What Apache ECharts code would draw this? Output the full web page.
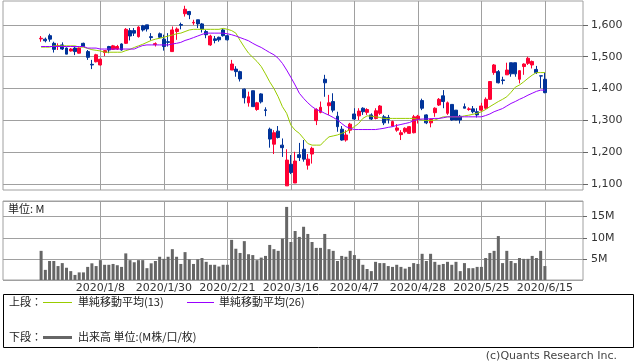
<!DOCTYPE html>
<html>
<head>
<meta charset="utf-8">
<script src="https://cdn.jsdelivr.net/npm/echarts@6/dist/echarts.min.js"></script>
<style>
html,body{margin:0;padding:0;background:#fff;}
#c{width:638px;height:362px;}
</style>
</head>
<body>
<div id="c"></div>
<script>
// ---- data ----
const dates = [
'2019/12/13','2019/12/16','2019/12/17','2019/12/18','2019/12/19','2019/12/20','2019/12/23','2019/12/24','2019/12/25','2019/12/26','2019/12/27','2019/12/30',
'2020/1/6','2020/1/7','2020/1/8','2020/1/9','2020/1/10','2020/1/14','2020/1/15','2020/1/16','2020/1/17','2020/1/20','2020/1/21','2020/1/22','2020/1/23','2020/1/24','2020/1/27','2020/1/28','2020/1/29','2020/1/30','2020/1/31',
'2020/2/3','2020/2/4','2020/2/5','2020/2/6','2020/2/7','2020/2/10','2020/2/12','2020/2/13','2020/2/14','2020/2/17','2020/2/18','2020/2/19','2020/2/20','2020/2/21','2020/2/25','2020/2/26','2020/2/27','2020/2/28',
'2020/3/2','2020/3/3','2020/3/4','2020/3/5','2020/3/6','2020/3/9','2020/3/10','2020/3/11','2020/3/12','2020/3/13','2020/3/16','2020/3/17','2020/3/18','2020/3/19','2020/3/23','2020/3/24','2020/3/25','2020/3/26','2020/3/27','2020/3/30','2020/3/31',
'2020/4/1','2020/4/2','2020/4/3','2020/4/6','2020/4/7','2020/4/8','2020/4/9','2020/4/10','2020/4/13','2020/4/14','2020/4/15','2020/4/16','2020/4/17','2020/4/20','2020/4/21','2020/4/22','2020/4/23','2020/4/24','2020/4/27','2020/4/28','2020/4/30',
'2020/5/1','2020/5/7','2020/5/8','2020/5/11','2020/5/12','2020/5/13','2020/5/14','2020/5/15','2020/5/18','2020/5/19','2020/5/20','2020/5/21','2020/5/22','2020/5/25','2020/5/26','2020/5/27','2020/5/28','2020/5/29',
'2020/6/1','2020/6/2','2020/6/3','2020/6/4','2020/6/5','2020/6/8','2020/6/9','2020/6/10','2020/6/11','2020/6/12','2020/6/15'
];
const labelDates = ['2020/1/8','2020/1/30','2020/2/21','2020/3/16','2020/4/7','2020/4/28','2020/5/25','2020/6/15'];
// [open, close, low, high]
const ohlc = [
[1556,1558,1547,1565],[1555,1550,1545,1560],[1566,1555,1547,1572],[1542,1523,1513,1547],[1532,1534,1521,1542],
[1537,1524,1521,1545],[1527,1508,1508,1529],[1518,1524,1516,1527],[1527,1516,1505,1532],[1511,1527,1510,1529],
[1542,1532,1530,1544],[1516,1498,1490,1521],[1476,1474,1461,1490],[1484,1506,1482,1509],[1474,1492,1472,1495],
[1513,1519,1502,1521],[1532,1521,1511,1534],[1523,1534,1521,1537],[1524,1532,1521,1537],[1540,1521,1519,1542],
[1542,1586,1540,1590],[1582,1565,1551,1590],[1582,1574,1565,1590],[1563,1593,1560,1596],[1597,1584,1579,1600],
[1600,1587,1579,1600],[1563,1560,1551,1574],[1538,1541,1532,1545],[1572,1561,1558,1576],[1555,1532,1519,1569],
[1547,1545,1532,1574],[1516,1584,1516,1595],[1579,1587,1553,1592],[1601,1599,1586,1607],[1635,1649,1626,1660],
[1642,1632,1618,1644],[1606,1608,1600,1616],[1616,1603,1590,1616],[1603,1587,1576,1606],[1579,1569,1558,1584],
[1537,1565,1534,1569],[1556,1551,1542,1565],[1561,1553,1547,1563],[1584,1566,1563,1589],[1566,1553,1551,1569],
[1458,1477,1458,1490],[1461,1453,1437,1470],[1453,1430,1422,1456],[1398,1371,1353,1400],[1355,1374,1343,1390],
[1393,1343,1343,1393],[1334,1355,1330,1358],[1383,1358,1353,1385],[1333,1331,1313,1341],[1272,1241,1214,1277],
[1225,1261,1194,1269],[1266,1246,1243,1282],[1222,1214,1185,1243],[1094,1175,1094,1209],[1162,1136,1131,1191],
[1103,1172,1103,1201],[1192,1183,1172,1229],[1209,1178,1170,1238],[1159,1178,1145,1194],[1194,1212,1164,1217],
[1299,1334,1285,1338],[1325,1341,1322,1359],[1429,1418,1374,1443],[1346,1355,1317,1380],[1359,1332,1325,1385],
[1313,1280,1264,1327],[1272,1238,1236,1282],[1238,1254,1233,1269],[1269,1288,1259,1292],[1320,1304,1301,1338],
[1314,1329,1301,1338],[1338,1327,1317,1341],[1325,1334,1317,1338],[1317,1304,1301,1322],[1306,1330,1303,1338],
[1322,1345,1317,1348],[1311,1292,1285,1317],[1309,1303,1290,1317],[1282,1296,1280,1299],[1269,1276,1264,1288],
[1255,1261,1238,1269],[1264,1275,1259,1278],[1259,1280,1257,1282],[1261,1311,1259,1317],[1303,1313,1290,1317],
[1362,1338,1332,1368],[1317,1292,1288,1319],[1292,1303,1278,1306],[1324,1338,1311,1341],[1348,1366,1345,1370],
[1377,1359,1338,1395],[1322,1355,1317,1359],[1350,1301,1299,1350],[1332,1301,1301,1332],[1313,1301,1290,1317],
[1343,1338,1338,1353],[1334,1336,1330,1341],[1336,1327,1322,1345],[1327,1317,1309,1338],[1332,1345,1327,1355],
[1338,1366,1334,1372],[1366,1422,1364,1422],[1450,1474,1443,1477],[1453,1418,1416,1458],[1427,1425,1413,1437],
[1443,1458,1443,1481],[1481,1446,1437,1481],[1481,1446,1437,1481],[1429,1456,1416,1458],[1469,1477,1443,1479],
[1479,1495,1474,1500],[1474,1485,1463,1488],[1460,1450,1446,1471],[1440,1439,1401,1440],[1429,1387,1385,1450]
];
const ma13 = [
1530,1530,1530,1534,1534,1534,1534,1534,1534,1530,
1530,1526,1522,1520,1518,1514,1514,1514,1514,1514,
1519,1523,1529,1534,1539,1545,1551,1555,1558,1561,
1565,1568,1572,1574,1579,1584,1586,1586,1586,1586,
1586,1586,1586,1589,1586,1582,1574,1551,1530,1511,
1498,1485,1469,1446,1421,1400,1374,1343,1322,1285,
1269,1259,1243,1227,1222,1222,1222,1236,1248,1251,
1254,1259,1264,1272,1280,1290,1306,1314,1313,1311,
1309,1306,1306,1306,1306,1306,1306,1306,1306,1303,
1301,1299,1299,1301,1306,1311,1311,1311,1311,1311,
1314,1316,1319,1322,1327,1334,1343,1351,1359,1366,
1374,1388,1404,1411,1421,1432,1442,1450,1450,1450
];
const ma26 = [
1532,1532,1532,1532,1532,1532,1532,1532,1532,1532,
1532,1527,1527,1527,1524,1524,1524,1524,1524,1524,
1524,1524,1524,1530,1535,1537,1537,1537,1537,1537,
1537,1540,1542,1545,1551,1555,1560,1565,1570,1574,
1574,1574,1574,1574,1572,1569,1565,1560,1555,1550,
1542,1535,1529,1521,1513,1506,1495,1479,1458,1435,
1411,1385,1369,1355,1343,1334,1329,1322,1316,1309,
1301,1290,1280,1275,1271,1271,1271,1271,1271,1271,
1273,1275,1278,1280,1284,1287,1290,1293,1299,1303,
1304,1304,1305,1306,1306,1308,1311,1311,1311,1311,
1311,1311,1311,1311,1311,1315,1320,1327,1332,1337,
1345,1353,1359,1366,1372,1379,1385,1391,1395,1395
];
// volume, millions
const volume = [
6.9,2.4,4.5,4.5,3.3,4.0,2.9,2.1,1.2,1.8,
1.8,3.1,3.95,3.3,4.7,3.6,3.6,3.8,3.5,3.1,
6.3,4.7,4.2,4.7,4.7,2.8,3.95,4.5,5.5,5.0,
5.5,7.3,5.5,3.8,6.6,4.9,3.8,4.9,5.2,4.3,
3.6,3.6,3.2,3.6,3.6,9.5,7.4,6.4,9.2,6.1,
5.9,4.7,5.3,5.7,8.3,7.3,6.9,9.8,17.3,9.0,
11.6,10.2,12.6,10.9,9.0,7.6,7.6,10.9,7.3,6.9,
4.5,5.7,5.5,6.9,5.9,5.0,3.6,2.6,2.1,4.3,
4.0,4.0,3.3,3.1,3.6,3.1,2.7,3.1,4.0,3.8,
6.2,4.5,6.2,4.3,3.6,3.8,4.3,3.6,4.3,2.1,
4.0,2.8,2.8,3.1,3.1,5.2,6.4,6.9,10.4,4.0,
6.9,4.5,4.0,5.2,5.0,5.0,5.7,5.2,6.9,3.3
];
const priceTicks = [1100,1200,1300,1400,1500,1600];

// ---- build ----
const PADL = 9, PADR = 9;
const pad = n => Array(n).fill('');
const cats = pad(PADL).concat(dates).concat(pad(PADR));
const padData = (arr, fill) => Array(PADL).fill(fill).concat(arr).concat(Array(PADR).fill(fill));
const isLabelIdx = (idx) => labelDates.indexOf(cats[idx]) >= 0;

const GRID = '#a0a0a0';
const FONT = "'DejaVu Sans','Noto Sans CJK JP',sans-serif";
const JFONT = "'Noto Sans CJK JP','DejaVu Sans',sans-serif";

const chart = echarts.init(document.getElementById('c'), null, {renderer:'canvas'});
const xBase = (gi, showLabel) => ({
  type:'category', gridIndex:gi, data:cats, boundaryGap:false,
  axisLine:{show:false}, axisTick:{show:false},
  axisLabel:{show:showLabel, interval:(i)=>isLabelIdx(i), color:'#333', fontSize:11, fontFamily:FONT, margin:3,
    formatter:(v)=>v},
  splitLine:{show:true, interval:(i)=>isLabelIdx(i), lineStyle:{color:GRID, width:1}}
});

chart.setOption({
  animation:false,
  backgroundColor:'#fff',
  grid:[
    {left:3, top:1, width:580, height:189, show:true, borderColor:GRID, borderWidth:1, containLabel:false},
    {left:3, top:201, width:580, height:79, show:true, borderColor:GRID, borderWidth:1, containLabel:false}
  ],
  xAxis:[xBase(0,false), xBase(1,true)],
  yAxis:[
    {type:'value', gridIndex:0, position:'right', min:1081, max:1675, scale:true,
     axisLine:{show:false},
     axisTick:{show:true, length:5, customValues:priceTicks, lineStyle:{color:'#666'}},
     axisLabel:{customValues:priceTicks, color:'#333', fontSize:11, fontFamily:FONT, margin:8,
       formatter:(v)=>v.toLocaleString('en-US')},
     splitLine:{show:true, lineStyle:{color:GRID, width:1}}},
    {type:'value', gridIndex:1, position:'right', min:0, max:18.7, interval:5,
     axisLine:{show:false},
     axisTick:{show:true, length:4, lineStyle:{color:'#666'}},
     axisLabel:{color:'#333', fontSize:11, fontFamily:FONT, margin:8, showMinLabel:false, showMaxLabel:false,
       formatter:(v)=> (v>0 && v<18) ? (v+'M') : ''},
     splitLine:{show:true, lineStyle:{color:GRID, width:1}}}
  ],
  series:[
    {type:'candlestick', xAxisIndex:0, yAxisIndex:0, barWidth:3.4,
     data: padData(ohlc, '-'),
     itemStyle:{color:'#ff0033', color0:'#003399', borderColor:'#ff0033', borderColor0:'#003399', borderWidth:1}},
    {type:'line', xAxisIndex:0, yAxisIndex:0, data:padData(ma13,'-'), symbol:'none',
     lineStyle:{color:'#99cc00', width:1}, z:3},
    {type:'line', xAxisIndex:0, yAxisIndex:0, data:padData(ma26,'-'), symbol:'none',
     lineStyle:{color:'#9900ff', width:1}, z:3},
    {type:'bar', xAxisIndex:1, yAxisIndex:1, data:padData(volume,'-'), barWidth:3,
     itemStyle:{color:'#666666'}}
  ],
  graphic:[
    {type:'text', left:8, top:203, style:{text:'単位: M', font:"11px "+JFONT, fill:'#222'}},
    {type:'rect', shape:{x:3.5, y:294.5, width:630, height:53}, style:{fill:'none', stroke:'#000', lineWidth:1}},
    {type:'text', x:9, y:302, style:{text:'上段：', font:"11px "+JFONT, fill:'#222', textVerticalAlign:'middle'}},
    {type:'line', shape:{x1:43, y1:302.5, x2:72, y2:302.5}, style:{stroke:'#99cc00', lineWidth:1}},
    {type:'text', x:78, y:302, style:{text:'単純移動平均(13)', font:"11px "+JFONT, fill:'#222', textVerticalAlign:'middle'}},
    {type:'line', shape:{x1:187, y1:302.5, x2:214, y2:302.5}, style:{stroke:'#9900ff', lineWidth:1}},
    {type:'text', x:219, y:302, style:{text:'単純移動平均(26)', font:"11px "+JFONT, fill:'#222', textVerticalAlign:'middle'}},
    {type:'text', x:9, y:337, style:{text:'下段：', font:"11px "+JFONT, fill:'#222', textVerticalAlign:'middle'}},
    {type:'line', shape:{x1:43, y1:337.5, x2:72, y2:337.5}, style:{stroke:'#666666', lineWidth:3}},
    {type:'text', x:78, y:337, style:{text:'出来高 単位:(M株/口/枚)', font:"11px "+JFONT, fill:'#222', textVerticalAlign:'middle'}},
    {type:'text', x:617, y:356, style:{text:'(c)Quants Research Inc.', font:"11px "+FONT, fill:'#444', textAlign:'right', textVerticalAlign:'middle'}}
  ]
});
</script>
</body>
</html>
